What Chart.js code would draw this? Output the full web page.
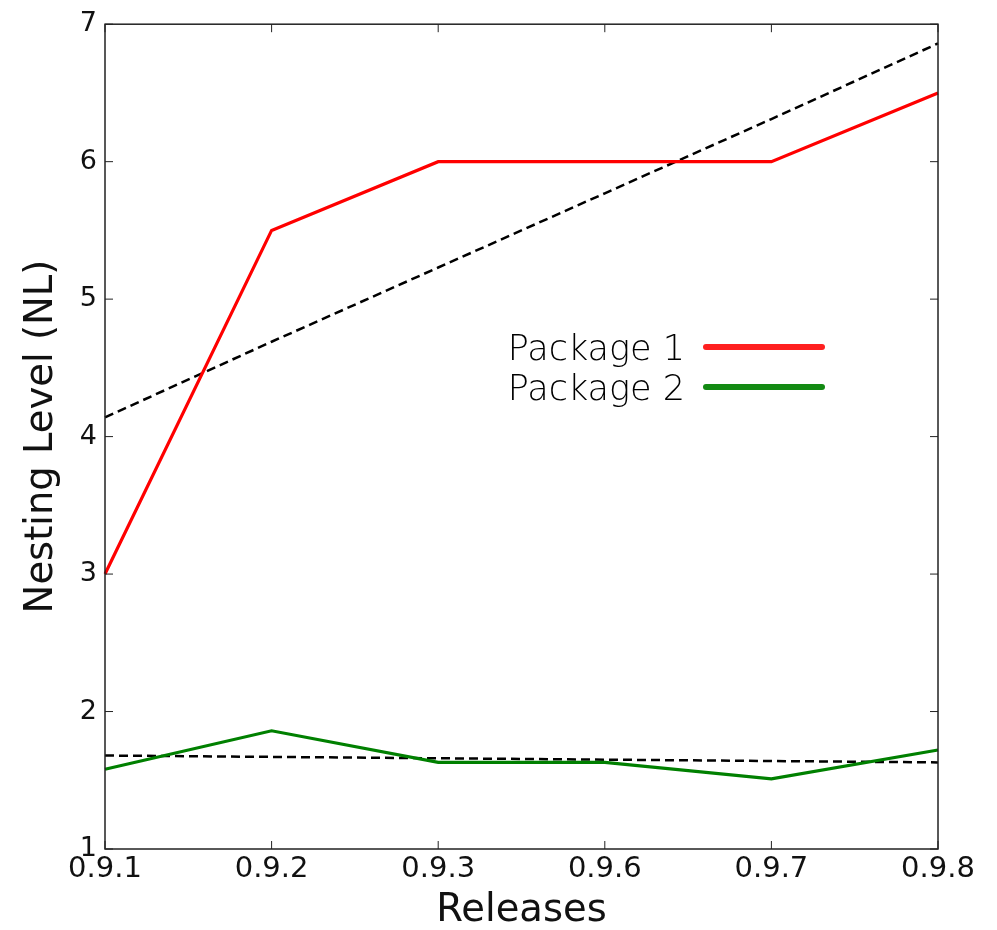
<!DOCTYPE html>
<html lang="en">
<head>
  <meta charset="UTF-8">
  <title>Nesting Level</title>
  <script src="https://cdn.jsdelivr.net/npm/chart.js"></script>
  <style>
    html, body { margin: 0; padding: 0; background: #fff; }
    #wrap { width: 997px; height: 930px; }
  </style>
</head>
<body>
  <div id="wrap"><canvas id="grafico" width="997" height="930"></canvas></div>

<script>
  // data
  const releases = ['0.9.1', '0.9.2', '0.9.3', '0.9.6', '0.9.7', '0.9.8'];
  const package1 = [3.0, 5.5, 6.0, 6.0, 6.0, 6.5];
  const package2 = [1.58, 1.86, 1.63, 1.63, 1.51, 1.72];
  const trend1 = [4.14, 4.69, 5.23, 5.77, 6.31, 6.86];
  const trend2 = [1.68, 1.67, 1.66, 1.65, 1.64, 1.63];
  const yTicks = [1, 2, 3, 4, 5, 6, 7];

  const tickFont = 'DejaVu Sans';

  // matplotlib style box with inward ticks + legend inside the plot
  const boxPlugin = {
    id: 'box',
    afterDraw(chart) {
      const { ctx, chartArea: a, scales: { x, y } } = chart;
      ctx.save();
      ctx.strokeStyle = '#222';
      ctx.lineWidth = 1.5;
      ctx.strokeRect(a.left, a.top, a.right - a.left, a.bottom - a.top);
      ctx.lineWidth = 1;
      ctx.beginPath();
      yTicks.forEach(v => {
        const py = y.getPixelForValue(v);
        ctx.moveTo(a.left, py); ctx.lineTo(a.left + 8, py);
        ctx.moveTo(a.right, py); ctx.lineTo(a.right - 8, py);
      });
      releases.forEach((r, i) => {
        const px = x.getPixelForValue(i);
        ctx.moveTo(px, a.bottom); ctx.lineTo(px, a.bottom - 8);
        ctx.moveTo(px, a.top); ctx.lineTo(px, a.top + 8);
      });
      ctx.stroke();

      // legend: text left, line right
      const items = [
        { label: 'Package 1', color: '#ff2020', y: 347 },
        { label: 'Package 2', color: '#138a13', y: 387 }
      ];
      ctx.font = '200 35px "DejaVu Sans"';
      ctx.textAlign = 'right';
      ctx.textBaseline = 'alphabetic';
      ctx.fillStyle = '#000';
      ctx.lineCap = 'round';
      ctx.lineWidth = 6;
      items.forEach(it => {
        ctx.fillText(it.label, 685, it.y + 13);
        ctx.strokeStyle = it.color;
        ctx.beginPath();
        ctx.moveTo(706, it.y); ctx.lineTo(822, it.y);
        ctx.stroke();
      });
      ctx.restore();
    }
  };

  const ctx = document.getElementById('grafico').getContext('2d');
  const grafico = new Chart(ctx, {
    type: 'line',
    data: {
      labels: releases,
      datasets: [
        { label: 'Package 1', data: package1, borderColor: '#ff0000', borderWidth: 3.2, pointRadius: 0, tension: 0 },
        { label: 'Package 2', data: package2, borderColor: '#008000', borderWidth: 3.2, pointRadius: 0, tension: 0 },
        { label: 'trend 1', data: trend1, borderColor: '#000', borderWidth: 2.5, borderDash: [9, 5], pointRadius: 0 },
        { label: 'trend 2', data: trend2, borderColor: '#000', borderWidth: 2.5, borderDash: [9, 5], pointRadius: 0 }
      ]
    },
    options: {
      responsive: false,
      animation: false,
      layout: { padding: { top: 23, right: 59, left: 0, bottom: 0 } },
      plugins: {
        legend: { display: false },
        tooltip: { enabled: false }
      },
      scales: {
        x: {
          offset: false,
          grid: { display: false, drawTicks: false },
          border: { display: false },
          ticks: {
            color: '#111', padding: 3, maxRotation: 0, autoSkip: false,
            font: { family: tickFont, size: 29 }
          },
          title: {
            display: true, text: 'Releases', color: '#111',
            font: { family: tickFont, size: 38.5, lineHeight: 1 }, padding: { top: 0, bottom: 0 }
          },
          afterFit(s) { s.height = 81; }
        },
        y: {
          min: 1, max: 7,
          grid: { display: false, drawTicks: false },
          border: { display: false },
          afterBuildTicks(s) { s.ticks = yTicks.map(v => ({ value: v })); },
          ticks: {
            color: '#111', padding: 8,
            font: { family: tickFont, size: 27 }
          },
          title: {
            display: true, text: 'Nesting Level (NL)', color: '#111',
            font: { family: tickFont, size: 38.5, lineHeight: 1 }, padding: { top: 23 }
          },
          afterFit(s) { s.width = 105; }
        }
      }
    },
    plugins: [boxPlugin]
  });
</script>
</body>
</html>
